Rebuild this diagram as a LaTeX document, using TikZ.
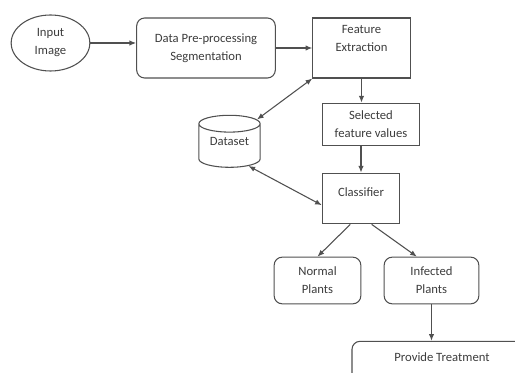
\documentclass[tikz,border=0pt]{standalone}
\usepackage{fontspec}
\setmainfont{Carlito}
\usetikzlibrary{arrows.meta,shapes.geometric}
\definecolor{linegray}{HTML}{505050}
\definecolor{textgray}{HTML}{3C3C3C}
\begin{document}
\begin{tikzpicture}[x=0.75pt,y=-0.75pt,
    every node/.style={text=textgray,font=\fontsize{9.5}{13.5}\selectfont,align=center,inner sep=1pt},
    box/.style={draw=linegray,thick,minimum width=#1},
    roundbox/.style={box=#1,rounded corners=6pt},
    link/.style={draw=linegray,thick,-{Latex[length=5pt,width=4pt]}},
    twoway/.style={link,{Latex[length=5pt,width=4pt]}-{Latex[length=5pt,width=4pt]}}]
        \useasboundingbox (0,0) rectangle (515,373);
        \clip (0,0) rectangle (515,373);
        \node[ellipse,draw=linegray,thick,minimum width=59pt,minimum height=42pt] (input) at (50.5,43) {Input\\Image};
        \node[roundbox=104pt,minimum height=45pt] (prep) at (206,48) {Data Pre-processing\\Segmentation};
        \node[box=73pt,minimum height=45pt,text depth=14pt] (extract) at (361.5,48) {Feature\\Extraction};
        \node[box=73pt,minimum height=32pt] (select) at (371,124.5) {Selected\\feature values};
        \node[cylinder,shape border rotate=90,aspect=0.4,draw=linegray,thick,minimum width=46pt,minimum height=39pt,text depth=8pt] (dataset) at (229.5,147) {Dataset};
        \node[box=58pt,minimum height=38pt,text depth=10pt] (classifier) at (361,198.5) {Classifier};
        \node[roundbox=65pt,minimum height=35pt] (normal) at (317.5,280.5) {Normal\\Plants};
        \node[roundbox=71pt,minimum height=35pt] (infected) at (431.5,280.5) {Infected\\Plants};
        \node[roundbox=135pt,minimum height=40pt,text depth=16pt] (treat) at (442,368) {Provide Treatment};
        \draw[link] (input.east) -- (input.east -| prep.west);
        \draw[link] (prep.east) -- (extract.west);
        \draw[link] (extract.south) -- (extract.south |- select.north);
        \draw[link] (classifier.north |- select.south) -- (classifier.north);
        \draw[twoway] (extract.south west) -- (dataset.north east);
        \draw[twoway] (dataset.south east) -- ([yshift=-5pt]classifier.west);
        \draw[link] ([xshift=-8pt]classifier.south) -- (normal.north);
        \draw[link] ([xshift=8pt]classifier.south) -- ([xshift=-11pt]infected.north);
        \draw[link] (infected.south) -- (infected.south |- treat.north);
      \end{tikzpicture}
\end{document}
